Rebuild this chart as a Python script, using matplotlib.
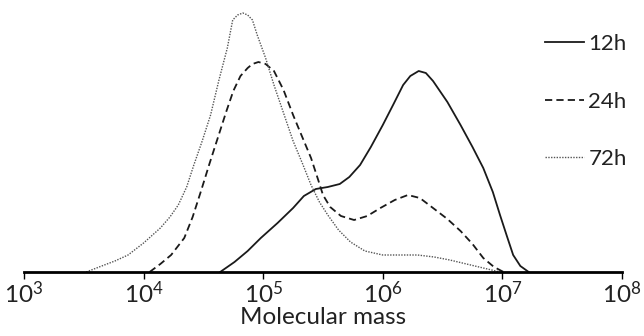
import numpy as np
import matplotlib.pyplot as plt

plt.rcParams['font.family'] = ['Lato', 'DejaVu Sans']
plt.rcParams['mathtext.fontset'] = 'custom'
plt.rcParams['mathtext.rm'] = 'Lato'
plt.rcParams['mathtext.it'] = 'Lato'

# log10(molecular mass) and relative signal
logm_12h = [4.64, 4.76, 4.87, 4.98, 5.12, 5.25, 5.34, 5.44, 5.54, 5.64, 5.72, 5.81, 5.90,
            6.00, 6.09, 6.17, 6.23, 6.30, 6.36, 6.42, 6.54, 6.65, 6.75, 6.84, 6.92,
            6.98, 7.04, 7.09, 7.15, 7.22]
sig_12h = [0, 10, 21, 34, 49, 64, 76, 83, 85, 88, 95, 107, 125,
           147, 168, 187, 196, 201, 199, 191, 170, 147, 125, 104, 80,
           57, 35, 17, 6, 0]

logm_24h = [4.05, 4.14, 4.23, 4.34, 4.41, 4.48, 4.55, 4.62, 4.69, 4.75, 4.81, 4.87, 4.91,
            4.96, 5.02, 5.09, 5.17, 5.25, 5.33, 5.40, 5.46, 5.50, 5.56, 5.65, 5.76,
            5.87, 5.98, 6.10, 6.21, 6.31, 6.42, 6.54, 6.65, 6.75, 6.84, 6.93, 7.01]
sig_24h = [0, 8, 17, 34, 55, 81, 108, 134, 160, 181, 196, 204, 208,
           210, 208, 201, 182, 157, 134, 114, 92, 77, 65, 56, 52,
           56, 64, 72, 77, 74, 64, 53, 41, 28, 14, 5, 0]

logm_72h = [3.52, 3.65, 3.76, 3.87, 4.00, 4.14, 4.22, 4.29, 4.36, 4.42, 4.49, 4.56, 4.63,
            4.70, 4.745, 4.786, 4.83, 4.87, 4.91, 4.95, 5.02, 5.09, 5.17, 5.25, 5.33,
            5.40, 5.47, 5.54, 5.63, 5.73, 5.85, 6.00, 6.15, 6.29, 6.43, 6.56, 6.70,
            6.84, 6.98]
sig_72h = [0, 6, 11, 17, 29, 44, 55, 67, 85, 107, 131, 157, 192,
           224, 252, 257, 259, 257, 252, 237, 214, 187, 159, 131, 108,
           87, 70, 57, 42, 30, 21, 17, 17, 17, 15, 12, 8,
           4, 0]

xticks = [1e3, 1e4, 1e5, 1e6, 1e7, 1e8]

fig = plt.figure(figsize=(6.44, 3.36), dpi=100)
ax = fig.add_axes([24 / 644, 64 / 336, 598 / 644, 265 / 336])

ax.plot(10 ** np.array(logm_12h), sig_12h, color='#1a1a1a', lw=1.3, label='12h')
ax.plot(10 ** np.array(logm_24h), sig_24h, color='#1a1a1a', lw=1.3,
        linestyle=(0, (4, 2.3)), label='24h')
ax.plot(10 ** np.array(logm_72h), sig_72h, color='#555555', lw=1.0,
        linestyle=(0, (1, 1)), label='72h')

ax.set_xscale('log')
ax.set_xlim(1e3, 1e8)
ax.set_ylim(0, 265)
ax.set_xticks(xticks)
ax.minorticks_off()
ax.tick_params(axis='x', direction='out', length=5, width=1, labelsize=17.5,
               pad=1, labelcolor='#222222')
ax.set_yticks([])
for s in ['left', 'right', 'top']:
    ax.spines[s].set_visible(False)
ax.spines['bottom'].set_linewidth(2)
ax.set_xlabel('Molecular mass', fontsize=17.5, labelpad=0, color='#222222')

leg = ax.legend(loc='upper left', bbox_to_anchor=(545 / 644, 1 - 34 / 336),
                bbox_transform=fig.transFigure, frameon=False, fontsize=16,
                handlelength=1.75, handletextpad=0.2, labelspacing=1.69,
                borderpad=0, borderaxespad=0)
for t in leg.get_texts():
    t.set_color('#222222')

fig.savefig('out.png', dpi=100)
